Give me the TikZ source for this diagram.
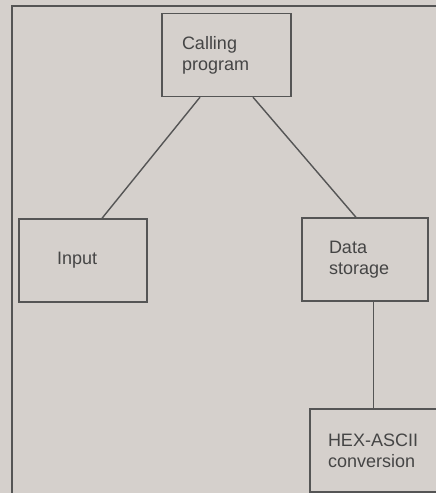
\documentclass[tikz,border=0pt]{standalone}
\usepackage{fontspec}
\setmainfont{Liberation Sans}
\usepackage{tikz}
\usetikzlibrary{positioning}

\definecolor{paper}{HTML}{D5D0CC}
\definecolor{ink}{HTML}{555555}
\definecolor{lettering}{HTML}{454545}

\begin{document}
\begin{tikzpicture}[
x=1pt, y=-1pt,
box/.style={rectangle, draw=ink, line width=1.4pt, minimum height=83pt,
align=left, text=lettering, font=\fontsize{18}{21}\selectfont},
link/.style={draw=ink, line width=1.4pt}
]
\fill[paper] (0,0) rectangle (436,493);
\useasboundingbox (0,0) rectangle (436,493);
\draw[link] (12,500) |- (450,6);

\node[box, minimum width=129pt, text width=89pt, inner xsep=20pt] (call) at (226.5,55) {Calling\\program};
\node[box, minimum width=128pt, text width=52pt, inner xsep=38pt] (inp) at (83,260.5) {Input};
\node[box, minimum width=126pt, text width=72pt, inner xsep=27pt] (data) at (365,259.5) {Data\\storage};
\node[box, minimum width=127pt, text width=91pt, inner xsep=18pt] (hex) at (373.5,450.5) {\mbox{HEX-ASCII}\\conversion};

\draw[link] ([xshift=-26.5pt]call.south) -- ([xshift=19pt]inp.north);
\draw[link] ([xshift=26.5pt]call.south) -- ([xshift=-9pt]data.north);
\draw[link] (hex.north) -- (hex.north |- data.south);
\end{tikzpicture}
\end{document}
